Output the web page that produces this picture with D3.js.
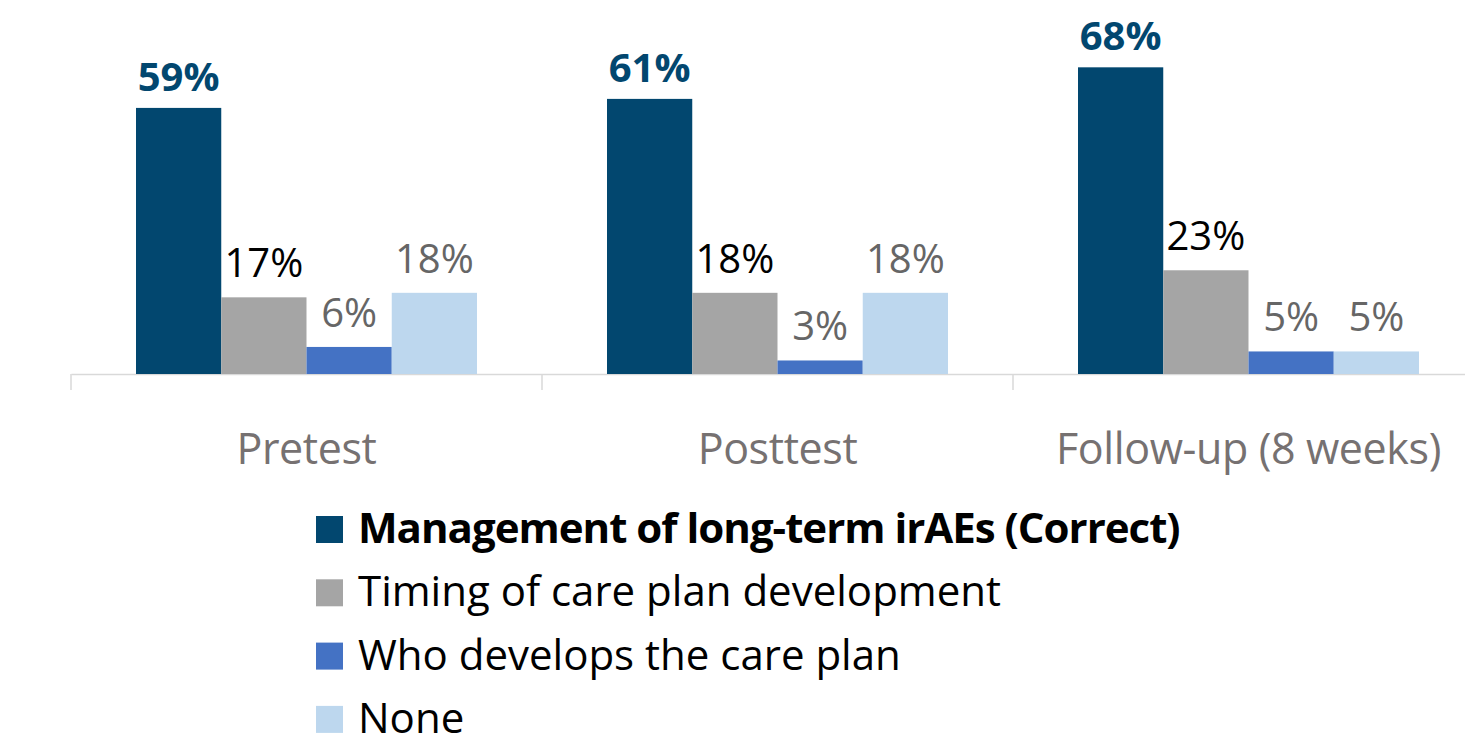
<!DOCTYPE html>
<html>
<head>
	<meta charset="utf-8">
	<title>irAEs chart</title>
	<script src="https://d3js.org/d3.v7.min.js"></script>
	<style>
		body { margin: 0; background: #fff; }
		svg text { font-family: 'Open Sans', sans-serif; }
	</style>
</head>
<body>
	<div class="chart"></div>

	<script type="text/javascript">

		// categories
		const groups = ['Pretest', 'Posttest', 'Follow-up (8 weeks)']
		// series names
		const seriesNames = [
			'Management of long-term irAEs (Correct)',
			'Timing of care plan development',
			'Who develops the care plan',
			'None'
		]
		// values (%)
		const managementVals = [59, 61, 68]
		const timingVals = [17, 18, 23]
		const whoVals = [6, 3, 5]
		const noneVals = [18, 18, 5]

		const seriesVals = [managementVals, timingVals, whoVals, noneVals]
		const colors = ['#02476f', '#a5a5a5', '#4472c4', '#bdd7ee']
		const labelColors = ['#02476f', '#000000', '#666666', '#666666']

		var width = 1465
		var height = 738

		var svg = d3
			.select('.chart')
			.append('svg')
			.attr('width', width)
			.attr('height', height)

		// scales
		const x0 = d3.scaleBand().domain(groups).range([71, 71 + 471 * 3])
		const x1 = d3.scaleBand().domain(d3.range(seriesNames.length)).range([65, 471 - 65])
		const y = d3.scaleLinear().domain([0, 100]).range([374, 374 - 451])

		// axis
		const axis = svg.append('g')
			.attr('transform', `translate(0, ${y(0)})`)
			.call(d3.axisBottom(x0).tickSize(0).tickPadding(0).tickFormat(''))
		axis.select('.domain').attr('stroke', '#d9d9d9').attr('stroke-width', 1.5)
		axis.selectAll('.tick').remove()

		// tick marks between groups
		svg.append('g')
			.selectAll('line')
			.data(groups.concat(['end']))
			.join('line')
			.attr('x1', (d, i) => 71 + i * x0.bandwidth())
			.attr('x2', (d, i) => 71 + i * x0.bandwidth())
			.attr('y1', y(0))
			.attr('y2', y(0) + 16)
			.attr('stroke', '#d9d9d9')
			.attr('stroke-width', 1.5)

		// category labels
		svg.append('g')
			.selectAll('text')
			.data(groups)
			.join('text')
			.attr('x', (d) => x0(d) + x0.bandwidth() / 2)
			.attr('y', 464)
			.attr('text-anchor', 'middle')
			.attr('fill', '#767171')
			.style('font-size', '43px')
			.style('letter-spacing', '-0.4px')
			.text((d) => d)

		// bars
		const rows = []
		groups.forEach((g, gi) => {
			seriesVals.forEach((vals, si) => {
				rows.push({ group: g, s: si, v: vals[gi] })
			})
		})

		const gBars = svg.append('g')
		gBars.selectAll('rect')
			.data(rows)
			.join('rect')
			.attr('x', (d) => x0(d.group) + x1(d.s))
			.attr('y', (d) => y(d.v))
			.attr('width', x1.bandwidth())
			.attr('height', (d) => y(0) - y(d.v))
			.attr('fill', (d) => colors[d.s])

		// value labels
		gBars.selectAll('text')
			.data(rows)
			.join('text')
			.attr('x', (d) => x0(d.group) + x1(d.s) + x1.bandwidth() / 2)
			.attr('y', (d) => y(d.v) - (d.s === 0 ? 17 : 20))
			.attr('text-anchor', 'middle')
			.attr('fill', (d) => labelColors[d.s])
			.style('font-size', '40px')
			.style('font-weight', (d) => d.s === 0 ? 'bold' : 'normal')
			.text((d) => d.v + '%')

		// legend
		const legend = svg.append('g')
			.selectAll('g')
			.data(seriesNames)
			.join('g')
			.attr('transform', (d, i) => `translate(316, ${516 + i * 63.3})`)

		legend.append('rect')
			.attr('width', 27)
			.attr('height', 27)
			.attr('fill', (d, i) => colors[i])

		legend.append('text')
			.attr('x', 42)
			.attr('y', 27)
			.attr('fill', '#000')
			.style('font-size', '42px')
			.style('font-weight', (d, i) => i === 0 ? 'bold' : 'normal')
			.style('letter-spacing', (d, i) => i === 0 ? '-1px' : '0px')
			.text((d) => d)

	</script>
</body>
</html>
